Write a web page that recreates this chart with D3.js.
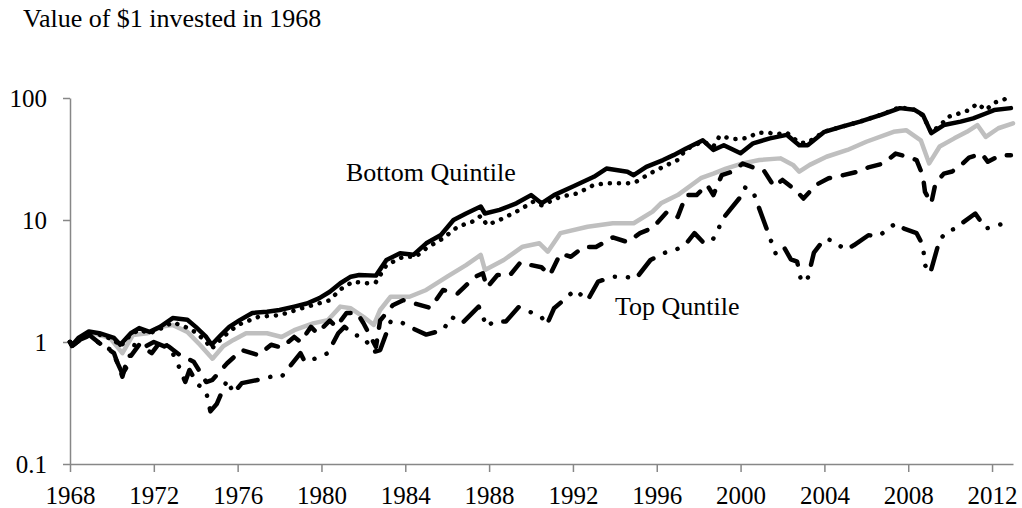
<!DOCTYPE html>
<html lang="en">
<head>
  <meta charset="UTF-8">
  <title>Value of $1 invested in 1968</title>
  <script src="https://d3js.org/d3.v7.min.js"></script>
  <style>
    html, body {
      margin: 0;
      padding: 0;
      background: #fff;
    }
    svg text {
      font-family: "Liberation Serif", "Times New Roman", serif;
      fill: #000;
    }
    .title { font-size: 26px; }
    .series-label { font-size: 26px; }
    .axis text { font-size: 25px; }
    .axis path, .axis line { stroke: #878787; stroke-width: 1.5; }
    .line { fill: none; stroke-width: 4.5; stroke-linejoin: round; stroke-linecap: round; }
  </style>
</head>
<body>
<svg width="1022" height="508"></svg>
<script type="text/javascript">

// values, [year, value of $1]
const bottomQuintile = [
  [1968.0,1.0],[1968.1,0.94],[1968.4,1.08],[1968.9,1.22],[1969.4,1.18],[1970.1,1.08],[1970.4,0.95],
  [1970.9,1.18],[1971.3,1.30],[1971.8,1.21],[1972.3,1.33],[1972.9,1.57],[1973.6,1.52],[1974.0,1.33],
  [1974.5,1.10],[1974.76,0.95],[1975.2,1.14],[1975.6,1.33],[1976.1,1.51],[1976.7,1.73],[1977.4,1.77],
  [1978.0,1.83],[1978.7,1.95],[1979.3,2.07],[1979.9,2.29],[1980.4,2.58],[1980.9,3.03],[1981.4,3.43],
  [1981.8,3.54],[1982.6,3.5],[1983.1,4.7],[1983.75,5.33],[1984.4,5.2],[1985.0,6.44],[1985.7,7.54],
  [1986.3,10],[1986.9,11.3],[1987.6,12.9],[1987.8,11.3],[1988.5,12.1],[1989.3,13.7],[1990.0,16.0],
  [1990.5,13.7],[1991.1,16],[1992.0,18.8],[1993.0,22.6],[1993.6,26.4],[1994.6,24.9],[1994.9,23.3],
  [1995.5,27.3],[1996.3,31],[1996.8,34],[1997.4,38.6],[1998.2,45],[1998.7,37.5],[1999.2,41],
  [2000.0,35.2],[2000.6,42.5],[2001.4,46.7],[2002.2,49.9],[2002.8,41],[2003.2,41],[2004.0,52.8],
  [2004.8,58],[2005.7,64],[2006.7,72.7],[2007.6,82.6],[2008.3,80],[2008.7,72.7],[2009.1,51.5],
  [2009.7,60],[2010.5,64],[2011.1,68],[2011.7,74.6],[2012.1,79.6],[2012.9,82.6]
];
const quintile2 = [
  [1968.0,1.0],[1968.1,0.94],[1968.5,1.08],[1968.9,1.2],[1969.4,1.15],[1970.1,1.04],[1970.4,0.92],
  [1970.9,1.15],[1971.3,1.26],[1971.8,1.18],[1972.3,1.28],[1972.9,1.45],[1973.5,1.33],[1974.0,1.2],
  [1974.5,1.0],[1974.76,0.88],[1975.2,1.05],[1975.6,1.22],[1976.1,1.4],[1977.0,1.61],[1978.0,1.66],
  [1979.1,1.9],[1980.4,2.2],[1980.9,2.7],[1981.5,3.12],[1982.2,3.03],[1982.6,3.1],[1983.1,4.27],
  [1983.9,5.0],[1984.5,5.0],[1985.0,5.86],[1985.8,7.07],[1986.5,8.8],[1987.2,9.7],[1987.6,10.8],
  [1987.9,9.1],[1988.5,10],[1989.3,11.7],[1990.1,14.1],[1990.5,13.2],[1991.4,15.5],[1992.2,16.5],
  [1993.0,19.4],[1993.6,20],[1994.6,20],[1995.0,20.5],[1995.7,24.2],[1996.5,28.3],[1997.0,31],
  [1997.4,38],[1998.2,44],[1998.7,40],[1999.0,48.8],[1999.3,47.5],[1999.7,46],[2000.1,46.4],
  [2000.4,47.5],[2000.8,52],[2001.3,52],[2001.7,50.6],[2002.2,52],[2002.8,43],[2003.2,43],
  [2004.0,53],[2004.8,58],[2005.7,64],[2006.7,73],[2007.6,84],[2008.3,80],[2008.7,72],[2009.1,52],
  [2009.7,64],[2009.9,70],[2010.3,73.5],[2010.9,79.6],[2011.3,90],[2011.7,79.6],[2012.1,91.5],
  [2012.4,95],[2012.9,102]
];
const quintile3 = [
  [1968.0,1.0],[1968.1,0.95],[1968.5,1.08],[1969.1,1.18],[1969.9,1.08],[1970.5,0.81],[1971.0,1.14],
  [1971.7,1.18],[1972.3,1.33],[1972.9,1.38],[1973.6,1.21],[1974.2,0.95],[1974.8,0.73],[1975.3,0.92],
  [1975.8,1.04],[1976.4,1.18],[1977.4,1.18],[1978.1,1.10],[1978.7,1.25],[1979.6,1.42],[1980.3,1.51],
  [1980.9,1.95],[1981.4,1.89],[1982.0,1.61],[1982.5,1.38],[1982.8,1.83],[1983.3,2.35],[1984.2,2.35],
  [1985.0,2.67],[1986.0,3.43],[1986.9,4.27],[1987.6,5.17],[1987.8,3.9],[1988.7,4.7],[1989.6,6.04],
  [1990.4,6.44],[1990.8,5.5],[1991.4,7.8],[1992.7,8.8],[1993.9,9.4],[1994.9,9.4],[1995.8,11.7],
  [1996.2,13.7],[1997.0,16],[1998.1,22],[1998.7,24],[1999.3,26.4],[2000.1,29.1],[2000.9,31],
  [2001.9,32],[2002.5,28.3],[2002.8,24.9],[2003.3,28.3],[2004.1,33],[2005.1,37.5],[2006.0,43.8],
  [2007.3,52.8],[2007.9,54.5],[2008.6,45],[2009.0,29.1],[2009.5,40],[2010.2,46.7],[2010.8,52.8],
  [2011.3,60],[2011.7,48],[2012.3,56.5],[2013.0,62]
];
const quintile4 = [
  [1968.0,1.0],[1968.1,0.93],[1968.5,1.05],[1968.9,1.15],[1969.4,0.98],[1970.1,0.81],[1970.5,0.52],
  [1970.7,0.69],[1971.3,0.95],[1971.9,0.81],[1972.3,1.0],[1972.6,0.95],[1973.25,0.78],[1973.9,0.69],
  [1974.2,0.57],[1974.5,0.47],[1974.8,0.49],[1975.5,0.67],[1976.2,0.86],[1977.0,0.78],[1977.6,0.95],
  [1978.1,0.9],[1978.7,1.1],[1979.0,1.0],[1979.5,1.33],[1979.8,1.18],[1980.4,1.5],[1980.7,1.33],
  [1981.2,1.73],[1981.7,1.73],[1982.0,1.43],[1982.6,0.91],[1982.8,1.5],[1983.4,2.0],[1983.9,2.2],
  [1985.2,1.9],[1985.8,2.67],[1986.5,2.5],[1986.8,2.8],[1987.3,3.4],[1987.7,3.66],[1987.9,2.8],
  [1988.4,3.54],[1989.0,3.54],[1989.5,4.5],[1990.0,4.27],[1990.5,4.1],[1990.9,3.54],[1991.4,5.3],
  [1991.9,5.0],[1992.5,6.0],[1993.1,6.0],[1993.9,7.2],[1994.6,6.6],[1995.2,7.8],[1995.8,8.6],
  [1996.5,11.7],[1997.0,10.6],[1997.4,16],[1997.9,16],[1998.4,19.4],[1998.7,16],[1999.1,23.3],
  [1999.6,24.9],[2000.1,29],[2000.6,27],[2001.1,25.6],[2001.6,18.8],[2002.0,21.3],[2002.4,18.8],
  [2002.7,17],[2003.0,15],[2003.6,19.4],[2004.2,22],[2004.9,23.3],[2005.6,24.9],[2006.1,27],
  [2006.8,29],[2007.4,35],[2007.95,33],[2008.4,31],[2008.7,23],[2008.8,17],[2009.1,13.7],
  [2009.3,20],[2009.7,24],[2010.1,25],[2010.6,29],[2010.9,32.5],[2011.5,35],[2011.8,30],
  [2012.4,34],[2012.9,34]
];
const topQuintile = [
  [1968.0,1.0],[1968.1,0.93],[1968.5,1.05],[1968.9,1.12],[1969.4,0.98],[1970.0,0.85],[1970.5,0.55],
  [1970.7,0.62],[1971.0,0.95],[1971.5,0.9],[1972.0,1.0],[1972.5,0.92],[1972.7,0.95],[1973.1,0.69],
  [1973.5,0.47],[1973.7,0.59],[1974.1,0.45],[1974.5,0.39],[1974.7,0.27],[1975.0,0.31],[1975.5,0.49],
  [1975.8,0.38],[1976.2,0.46],[1977.0,0.49],[1977.6,0.52],[1978.1,0.52],[1979.0,0.81],[1979.2,0.69],
  [1979.8,0.74],[1980.3,0.81],[1980.8,1.18],[1981.1,1.33],[1981.6,1.14],[1982.0,1.1],[1982.5,0.83],
  [1982.8,0.86],[1983.3,1.47],[1983.75,1.47],[1984.2,1.33],[1985.0,1.15],[1985.8,1.25],[1986.2,1.61],
  [1986.7,1.42],[1987.5,1.95],[1987.9,1.33],[1988.2,1.47],[1988.8,1.47],[1989.4,1.93],[1990.0,1.75],
  [1990.5,1.6],[1990.75,1.38],[1991.1,1.89],[1991.55,2.2],[1992.1,2.67],[1992.7,2.2],[1993.2,3.12],
  [1993.9,3.43],[1994.6,3.4],[1995.0,3.3],[1995.7,4.7],[1996.4,5.4],[1996.9,5.67],[1997.4,6.4],
  [1997.8,7.8],[1998.2,6.6],[1998.6,6.6],[1998.9,8.0],[1999.1,10],[2000.0,15.5],[2000.2,18.5],
  [2000.6,17.1],[2000.8,13.7],[2001.7,5.17],[2002.1,5.86],[2002.4,4.76],[2002.7,4.55],[2002.9,3.1],
  [2003.2,3.3],[2003.5,5.4],[2004.0,7.0],[2004.4,6.8],[2005.0,5.7],[2005.4,6.2],[2006.1,7.5],
  [2006.6,7.4],[2007.4,9.4],[2007.8,8.5],[2008.4,7.8],[2008.7,6.2],[2008.8,4.27],[2009.05,3.66],
  [2009.5,6.9],[2009.9,8.2],[2010.3,8.5],[2010.6,9.5],[2011.2,11.3],[2011.7,8.5],[2012.3,9.1],
  [2012.9,9.6]
];

const xTicks = [1968, 1972, 1976, 1980, 1984, 1988, 1992, 1996, 2000, 2004, 2008, 2012];
const yTicks = [0.1, 1, 10, 100];

const svg = d3.select("svg");
const margin = {top: 98, right: 9, bottom: 44, left: 70};
const width = +svg.attr("width") - margin.left - margin.right;
const height = +svg.attr("height") - margin.top - margin.bottom;

const g = svg.append("g").attr("transform", `translate(${margin.left},${margin.top})`);

const x = d3.scaleLinear().domain([1968, 2013]).range([0, width]);
const y = d3.scaleLog().domain([0.1, 100]).range([height, 0]);

svg.append("text")
  .attr("class", "title")
  .attr("x", 23)
  .attr("y", 27)
  .text("Value of $1 invested in 1968");

// axes
g.append("g")
  .attr("class", "axis")
  .attr("transform", `translate(0,${height})`)
  .call(d3.axisBottom(x).tickValues(xTicks).tickFormat(d => d)
    .tickSizeInner(8).tickSizeOuter(0).tickPadding(14));

g.append("g")
  .attr("class", "axis")
  .call(d3.axisLeft(y).tickValues(yTicks).tickFormat(d => d)
    .tickSizeInner(7).tickSizeOuter(0).tickPadding(16));

const line = d3.line()
  .x(d => x(d[0]))
  .y(d => y(d[1]));

// drawn back to front
const series = [
  {name: "Quintile 3", data: quintile3, color: "#bfbfbf", dash: null},
  {name: "Top Quintile", data: topQuintile, color: "#000", dash: "22,13,0.1,13,0.1,13"},
  {name: "Quintile 4", data: quintile4, color: "#000", dash: "13,13"},
  {name: "Quintile 2", data: quintile2, color: "#000", dash: "0.1,9"},
  {name: "Bottom Quintile", data: bottomQuintile, color: "#000", dash: null}
];

g.selectAll(".line")
  .data(series)
  .enter()
  .append("path")
  .attr("class", "line")
  .attr("stroke", d => d.color)
  .attr("stroke-dasharray", d => d.dash)
  .attr("d", d => line(d.data));

svg.append("text")
  .attr("class", "series-label")
  .attr("x", 346)
  .attr("y", 181)
  .text("Bottom Quintile");

svg.append("text")
  .attr("class", "series-label")
  .attr("x", 615)
  .attr("y", 315)
  .text("Top Quntile");

</script>
</body>
</html>
